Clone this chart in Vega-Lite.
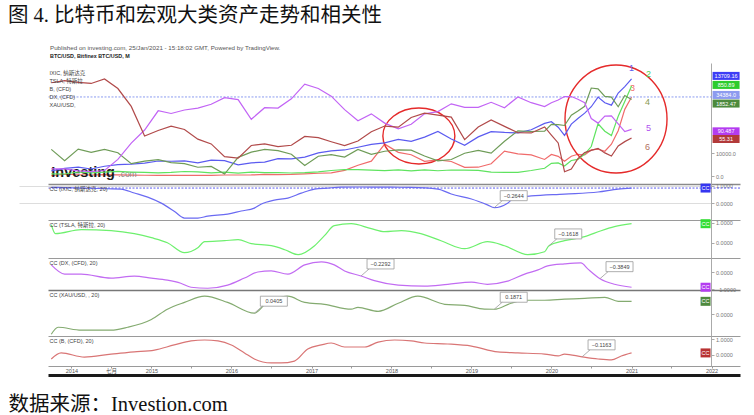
{
"$schema": "https://vega.github.io/schema/vega-lite/v6.json",
"background": "white",
"padding": {"left": 8, "right": 14, "top": 6, "bottom": 2},
"bounds": "flush",
"spacing": 0,
"title": {"text": "图 4. 比特币和宏观大类资产走势和相关性", "anchor": "start", "frame": "group", "dx": -40, "offset": 18, "fontSize": 20.5, "fontWeight": "normal", "font": "Liberation Serif, Noto Sans CJK SC", "color": "#111111"},
"datasets": {
"prices": [
{"d":"2013-10-01","btc":204,"ixic":3920,"tsla":31.9,"xau":1323,"dx":80.2,"b":108.8},
{"d":"2013-12-01","btc":754,"ixic":4177,"tsla":30.1,"xau":1202,"dx":80.2,"b":110.8},
{"d":"2014-02-01","btc":550,"ixic":4308,"tsla":49.0,"xau":1326,"dx":79.7,"b":109.1},
{"d":"2014-04-01","btc":445,"ixic":4115,"tsla":41.6,"xau":1291,"dx":79.5,"b":108.1},
{"d":"2014-06-01","btc":640,"ixic":4408,"tsla":48.0,"xau":1322,"dx":79.8,"b":112.4},
{"d":"2014-08-01","btc":478,"ixic":4580,"tsla":53.9,"xau":1287,"dx":82.7,"b":103.2},
{"d":"2014-10-01","btc":338,"ixic":4631,"tsla":48.5,"xau":1171,"dx":86.9,"b":85.9},
{"d":"2014-12-01","btc":318,"ixic":4736,"tsla":44.5,"xau":1199,"dx":90.3,"b":57.3},
{"d":"2015-02-01","btc":254,"ixic":4964,"tsla":40.6,"xau":1213,"dx":95.3,"b":62.6},
{"d":"2015-04-01","btc":236,"ixic":4941,"tsla":45.1,"xau":1183,"dx":94.6,"b":66.8},
{"d":"2015-06-01","btc":263,"ixic":4987,"tsla":53.7,"xau":1172,"dx":95.5,"b":63.6},
{"d":"2015-08-01","btc":230,"ixic":4777,"tsla":49.8,"xau":1133,"dx":96.0,"b":54.2},
{"d":"2015-10-01","btc":314,"ixic":5054,"tsla":41.4,"xau":1142,"dx":97.0,"b":49.6},
{"d":"2015-12-01","btc":430,"ixic":5007,"tsla":48.0,"xau":1061,"dx":98.7,"b":37.3},
{"d":"2016-02-01","btc":437,"ixic":4558,"tsla":38.2,"xau":1238,"dx":98.2,"b":35.9},
{"d":"2016-04-01","btc":448,"ixic":4775,"tsla":48.0,"xau":1293,"dx":93.1,"b":48.1},
{"d":"2016-06-01","btc":673,"ixic":4843,"tsla":42.5,"xau":1322,"dx":96.1,"b":49.7},
{"d":"2016-08-01","btc":575,"ixic":5213,"tsla":42.4,"xau":1309,"dx":96.0,"b":47.0},
{"d":"2016-10-01","btc":700,"ixic":5189,"tsla":39.4,"xau":1272,"dx":98.4,"b":48.3},
{"d":"2016-12-01","btc":964,"ixic":5383,"tsla":42.7,"xau":1152,"dx":102.2,"b":56.8},
{"d":"2017-02-01","btc":1190,"ixic":5825,"tsla":50.0,"xau":1250,"dx":101.1,"b":55.6},
{"d":"2017-04-01","btc":1350,"ixic":6048,"tsla":62.8,"xau":1268,"dx":99.1,"b":51.7},
{"d":"2017-06-01","btc":2480,"ixic":6140,"tsla":72.3,"xau":1242,"dx":95.6,"b":47.9},
{"d":"2017-08-01","btc":4700,"ixic":6429,"tsla":71.1,"xau":1322,"dx":92.7,"b":52.4},
{"d":"2017-10-01","btc":6450,"ixic":6728,"tsla":66.4,"xau":1271,"dx":94.5,"b":61.4},
{"d":"2017-12-01","btc":13860,"ixic":6903,"tsla":62.3,"xau":1303,"dx":92.1,"b":66.9},
{"d":"2018-02-01","btc":10300,"ixic":7273,"tsla":68.6,"xau":1318,"dx":90.6,"b":65.8},
{"d":"2018-04-01","btc":9240,"ixic":7066,"tsla":58.4,"xau":1315,"dx":91.8,"b":75.2},
{"d":"2018-06-01","btc":6390,"ixic":7510,"tsla":68.6,"xau":1253,"dx":94.5,"b":79.4},
{"d":"2018-08-01","btc":7030,"ixic":8110,"tsla":60.3,"xau":1201,"dx":95.1,"b":77.4},
{"d":"2018-10-01","btc":6300,"ixic":7306,"tsla":67.5,"xau":1215,"dx":97.1,"b":75.5},
{"d":"2018-12-01","btc":3740,"ixic":6635,"tsla":66.6,"xau":1282,"dx":96.2,"b":53.8},
{"d":"2019-02-01","btc":3820,"ixic":7533,"tsla":63.9,"xau":1313,"dx":96.2,"b":66.0},
{"d":"2019-04-01","btc":5320,"ixic":8095,"tsla":47.7,"xau":1283,"dx":97.5,"b":72.8},
{"d":"2019-06-01","btc":10800,"ixic":8006,"tsla":44.7,"xau":1409,"dx":96.1,"b":66.6},
{"d":"2019-08-01","btc":9600,"ixic":7963,"tsla":45.1,"xau":1520,"dx":98.9,"b":60.4},
{"d":"2019-10-01","btc":9150,"ixic":8292,"tsla":62.9,"xau":1513,"dx":97.4,"b":60.2},
{"d":"2019-12-01","btc":7200,"ixic":8973,"tsla":83.7,"xau":1517,"dx":96.4,"b":66.0},
{"d":"2020-01-01","btc":9350,"ixic":9151,"tsla":130.1,"xau":1589,"dx":97.4,"b":58.2},
{"d":"2020-02-01","btc":8550,"ixic":8567,"tsla":133.6,"xau":1585,"dx":98.1,"b":50.5},
{"d":"2020-03-01","btc":6400,"ixic":7700,"tsla":104.8,"xau":1577,"dx":99.0,"b":22.7},
{"d":"2020-04-01","btc":8620,"ixic":8890,"tsla":156.4,"xau":1686,"dx":99.0,"b":25.3},
{"d":"2020-05-01","btc":9450,"ixic":9490,"tsla":167.0,"xau":1730,"dx":98.3,"b":35.3},
{"d":"2020-06-01","btc":9140,"ixic":10059,"tsla":215.9,"xau":1781,"dx":97.4,"b":41.2},
{"d":"2020-07-01","btc":11350,"ixic":10745,"tsla":286.2,"xau":1975,"dx":93.3,"b":43.3},
{"d":"2020-08-01","btc":11650,"ixic":11775,"tsla":498.3,"xau":1967,"dx":92.1,"b":45.3},
{"d":"2020-09-01","btc":10780,"ixic":11168,"tsla":429.0,"xau":1886,"dx":93.9,"b":40.9},
{"d":"2020-10-01","btc":13800,"ixic":10912,"tsla":388.0,"xau":1878,"dx":94.0,"b":37.9},
{"d":"2020-11-01","btc":19700,"ixic":12199,"tsla":567.6,"xau":1776,"dx":91.9,"b":47.6},
{"d":"2020-12-01","btc":28990,"ixic":12888,"tsla":705.7,"xau":1895,"dx":89.9,"b":51.8},
{"d":"2021-01-01","btc":34384.0,"ixic":13709.16,"tsla":850.89,"xau":1852.47,"dx":90.487,"b":55.31}
],
"rings": [
{"n":1,"d":"2018-05-06","btc":17400},
{"n":2,"d":"2020-10-22","btc":24795}
],
"cc_ixic": [
{"d":"2013-10-01","v":0.92},{"d":"2014-06-15","v":0.84},{"d":"2014-08-15","v":0.82},{"d":"2014-10-15","v":0.59},
{"d":"2014-12-15","v":0.35},{"d":"2015-02-15","v":0.0},{"d":"2015-04-15","v":-0.47},{"d":"2015-06-01","v":-0.87},
{"d":"2015-08-01","v":-0.87},{"d":"2015-09-15","v":-0.76},{"d":"2015-12-15","v":-0.64},{"d":"2016-02-15","v":-0.46},
{"d":"2016-04-15","v":-0.29},{"d":"2016-05-15","v":-0.06},{"d":"2016-07-15","v":0.18},{"d":"2016-09-15","v":0.29},
{"d":"2016-11-15","v":0.58},{"d":"2017-01-15","v":0.82},{"d":"2017-03-15","v":0.88},{"d":"2017-05-15","v":0.93},
{"d":"2017-08-15","v":0.94},{"d":"2018-01-01","v":0.93},{"d":"2018-04-01","v":0.92},{"d":"2018-08-01","v":0.82},
{"d":"2018-10-01","v":0.53},{"d":"2019-01-01","v":0.24},{"d":"2019-03-15","v":-0.1},{"d":"2019-04-15","v":-0.2644},
{"d":"2019-06-15","v":0.0},{"d":"2019-07-15","v":0.3},{"d":"2019-10-01","v":0.42},{"d":"2020-03-01","v":0.53},
{"d":"2020-08-01","v":0.65},{"d":"2020-11-01","v":0.82},{"d":"2021-01-01","v":0.88}
],
"cc_tsla": [
{"d":"2013-10-01","v":0.9},{"d":"2013-10-20","v":0.45},{"d":"2014-02-15","v":0.65},{"d":"2014-07-01","v":0.6},
{"d":"2014-10-15","v":0.45},{"d":"2015-01-01","v":0.25},{"d":"2015-03-15","v":0.0},{"d":"2015-06-01","v":-0.5},
{"d":"2015-08-01","v":-0.25},{"d":"2015-09-01","v":0.05},{"d":"2015-12-01","v":0.1},{"d":"2016-02-01","v":0.15},
{"d":"2016-04-01","v":-0.05},{"d":"2016-07-01","v":-0.15},{"d":"2016-09-01","v":-0.35},{"d":"2016-11-01","v":-0.6},
{"d":"2017-01-15","v":-0.15},{"d":"2017-03-01","v":0.35},{"d":"2017-04-15","v":0.85},{"d":"2017-07-01","v":0.95},
{"d":"2017-10-01","v":0.7},{"d":"2017-12-01","v":0.55},{"d":"2018-02-15","v":0.6},{"d":"2018-05-15","v":0.45},
{"d":"2018-08-15","v":0.1},{"d":"2018-12-01","v":-0.3},{"d":"2019-03-15","v":0.05},{"d":"2019-06-01","v":-0.15},
{"d":"2019-09-15","v":-0.6},{"d":"2019-12-01","v":-0.45},{"d":"2019-12-20","v":-0.1618},{"d":"2020-03-01","v":0.1},
{"d":"2020-06-01","v":0.3},{"d":"2020-08-15","v":0.6},{"d":"2020-10-15","v":0.8},{"d":"2021-01-01","v":0.95}
],
"cc_dx": [
{"d":"2013-10-01","v":0.41},{"d":"2013-12-01","v":-0.12},{"d":"2014-02-15","v":-0.12},{"d":"2014-07-01","v":-0.35},
{"d":"2014-10-15","v":-0.24},{"d":"2015-01-01","v":-0.35},{"d":"2015-03-15","v":-0.47},{"d":"2015-05-15","v":-0.65},
{"d":"2015-07-01","v":-0.88},{"d":"2015-09-15","v":-0.94},{"d":"2015-12-15","v":-0.76},{"d":"2016-03-01","v":-0.35},
{"d":"2016-05-01","v":0.0},{"d":"2016-07-01","v":0.06},{"d":"2016-09-15","v":-0.12},{"d":"2016-12-01","v":0.41},
{"d":"2017-02-15","v":0.59},{"d":"2017-04-15","v":0.41},{"d":"2017-06-01","v":0.06},{"d":"2017-08-15","v":-0.2292},
{"d":"2017-10-15","v":-0.5},{"d":"2018-02-01","v":-0.76},{"d":"2018-06-01","v":-0.82},{"d":"2018-09-15","v":-0.71},
{"d":"2019-01-01","v":-0.59},{"d":"2019-03-15","v":-0.71},{"d":"2019-06-15","v":-0.53},{"d":"2019-09-01","v":-0.12},
{"d":"2019-11-01","v":0.12},{"d":"2019-12-15","v":0.35},{"d":"2020-03-01","v":0.47},{"d":"2020-05-15","v":0.53},
{"d":"2020-06-15","v":0.18},{"d":"2020-08-10","v":-0.3849},{"d":"2020-10-15","v":-0.71},{"d":"2021-01-01","v":-0.88}
],
"cc_xau": [
{"d":"2013-10-01","v":-0.74},{"d":"2013-11-01","v":-0.48},{"d":"2014-02-15","v":-0.59},{"d":"2014-07-01","v":-0.59},
{"d":"2014-09-15","v":-0.48},{"d":"2015-01-01","v":-0.19},{"d":"2015-03-15","v":0.19},{"d":"2015-06-01","v":0.44},
{"d":"2015-09-01","v":0.67},{"d":"2015-12-15","v":0.44},{"d":"2016-04-15","v":0.0405},{"d":"2016-06-01","v":0.35},
{"d":"2016-08-01","v":0.6},{"d":"2016-09-15","v":0.67},{"d":"2016-12-01","v":0.44},{"d":"2017-03-01","v":0.37},
{"d":"2017-07-01","v":0.19},{"d":"2017-08-01","v":0.26},{"d":"2017-11-01","v":0.11},{"d":"2018-02-01","v":0.41},
{"d":"2018-05-01","v":0.67},{"d":"2018-09-01","v":0.37},{"d":"2018-12-01","v":0.33},{"d":"2019-03-01","v":0.19},
{"d":"2019-04-15","v":0.1871},{"d":"2019-07-01","v":0.41},{"d":"2019-09-01","v":0.52},{"d":"2019-12-01","v":0.52},
{"d":"2020-03-01","v":0.56},{"d":"2020-06-01","v":0.59},{"d":"2020-09-01","v":0.63},{"d":"2020-11-01","v":0.48},
{"d":"2021-01-01","v":0.48}
],
"cc_b": [
{"d":"2013-10-01","v":-0.25},{"d":"2013-11-15","v":0.13},{"d":"2014-03-01","v":-0.13},{"d":"2014-07-01","v":0.06},
{"d":"2014-10-15","v":0.19},{"d":"2015-01-15","v":0.31},{"d":"2015-04-15","v":0.63},{"d":"2015-07-01","v":0.88},
{"d":"2015-09-01","v":0.94},{"d":"2015-11-01","v":0.88},{"d":"2016-01-01","v":0.63},{"d":"2016-03-01","v":0.13},
{"d":"2016-04-15","v":-0.25},{"d":"2016-07-01","v":-0.5},{"d":"2016-08-15","v":-0.5},{"d":"2016-10-15","v":-0.38},
{"d":"2016-12-15","v":0.38},{"d":"2017-02-15","v":0.63},{"d":"2017-04-01","v":0.75},{"d":"2017-06-01","v":0.5},
{"d":"2017-09-01","v":0.5},{"d":"2017-11-01","v":0.81},{"d":"2018-01-15","v":0.94},{"d":"2018-04-01","v":0.88},
{"d":"2018-06-01","v":0.75},{"d":"2018-09-15","v":0.69},{"d":"2019-01-01","v":0.56},{"d":"2019-05-01","v":0.19},
{"d":"2019-08-01","v":0.13},{"d":"2019-12-01","v":0.06},{"d":"2020-02-01","v":-0.06},{"d":"2020-03-01","v":0.06},
{"d":"2020-05-20","v":-0.1163},{"d":"2020-08-01","v":-0.25},{"d":"2020-10-01","v":-0.31},{"d":"2020-11-15","v":-0.06},
{"d":"2021-01-01","v":0.13}
],
"notes": [
{"p":"IXIC","d":"2019-04-15","v":-0.2644},
{"p":"TSLA","d":"2019-12-20","v":-0.1618},
{"p":"DX","d":"2017-08-15","v":-0.2292},
{"p":"DX","d":"2020-08-10","v":-0.3849},
{"p":"XAU","d":"2016-04-15","v":0.0405},
{"p":"XAU","d":"2019-04-15","v":0.1871},
{"p":"B","d":"2020-05-20","v":-0.1163}
]
},
"vconcat": [
{
"width": 692, "height": 121,
"title": {"text": "Published on investing.com, 25/Jan/2021 - 15:18:02 GMT, Powered by TradingView.", "subtitle": "BTC/USD, Bitfinex BTC/USD, M", "anchor": "start", "frame": "group", "dx": 2, "offset": 3, "fontSize": 6.2, "fontWeight": "normal", "color": "#555555", "subtitleFontSize": 5.4, "subtitleFontWeight": "bold", "subtitleColor": "#222222", "subtitlePadding": 3, "font": "Liberation Sans", "subtitleFont": "Liberation Sans"},
"data": {"name": "prices"},
"layer": [
{"layer": [
{"mark": {"type": "line", "color": "#f06b6b", "strokeWidth": 1.2},
 "encoding": {
  "x": {"field": "d", "type": "temporal", "scale": {"type": "utc", "domain": [{"year": 2013, "month": 9, "date": 16, "utc": true}, {"year": 2022, "month": 5, "date": 11, "utc": true}]}, "axis": {"orient": "bottom", "title": null, "domainColor": "#8a8a8a", "domainWidth": 1.5}},
  "y": {"field": "btc", "type": "quantitative", "scale": {"domain": [-3480, 49155], "nice": false, "zero": false}, "axis": {"orient": "right", "values": [0, 10000], "format": ".1f", "title": null, "labelOverlap": false}}}},
{"transform": [{"filter": "utcyear(datum.d) == 2021"}],
 "mark": {"type": "rule", "color": "#8c9cf0", "strokeDash": [2, 1.5], "strokeWidth": 1},
 "encoding": {"y": {"field": "btc", "type": "quantitative"}}},
{"transform": [{"filter": "utcyear(datum.d) == 2021"}],
 "mark": {"type": "point", "shape": "M8.1,-0.6H10.8V0.2H8.1Z", "size": 400, "filled": true, "fill": "#8d9bef", "strokeWidth": 0, "opacity": 1},
 "encoding": {"x": {"field": "d", "type": "temporal"}, "y": {"field": "btc", "type": "quantitative"}}},
{"transform": [{"filter": "utcyear(datum.d) == 2021"}],
 "mark": {"type": "text", "dx": 94.5, "dy": -2, "fontSize": 5.5, "color": "white", "align": "center", "baseline": "middle"},
 "encoding": {"x": {"field": "d", "type": "temporal"}, "y": {"field": "btc", "type": "quantitative"}, "text": {"field": "btc", "type": "quantitative", "format": ".1f"}}},
{"transform": [{"filter": "utcyear(datum.d) == 2021"}],
 "mark": {"type": "text", "text": "3", "dx": 1, "dy": -9, "fontSize": 9, "color": "#f06b6b", "align": "center", "baseline": "middle"},
 "encoding": {"x": {"field": "d", "type": "temporal"}, "y": {"field": "btc", "type": "quantitative"}}},
{"data": {"name": "rings"}, "transform": [{"filter": "datum.n == 1"}],
 "mark": {"type": "point", "shape": "M-3.6,0A3.6,2.8 0 1,0 3.6,0A3.6,2.8 0 1,0 -3.6,0Z", "size": 400, "filled": false, "stroke": "#e52a2a", "strokeWidth": 1.4, "opacity": 1},
 "encoding": {"x": {"field": "d", "type": "temporal"}, "y": {"field": "btc", "type": "quantitative"}}},
{"data": {"name": "rings"}, "transform": [{"filter": "datum.n == 2"}],
 "mark": {"type": "point", "shape": "M-5.1,0A5.1,5.4 0 1,0 5.1,0A5.1,5.4 0 1,0 -5.1,0Z", "size": 400, "filled": false, "stroke": "#e52a2a", "strokeWidth": 1.4, "opacity": 1},
 "encoding": {"x": {"field": "d", "type": "temporal"}, "y": {"field": "btc", "type": "quantitative"}}},
{"data": {"values": [{"t": "Investing", "u": ".com"}]},
 "mark": {"type": "text", "fontSize": 14.5, "fontWeight": "bold", "color": "#1c1c1c", "align": "left", "baseline": "alphabetic", "font": "Liberation Sans"},
 "encoding": {"x": {"datum": {"year": 2013, "month": 10, "date": 1, "utc": true}, "type": "temporal"}, "y": {"datum": -450, "type": "quantitative"}, "text": {"field": "t"}}},
{"data": {"values": [{"t": "Investing", "u": ".com"}]},
 "mark": {"type": "text", "fontSize": 8.5, "color": "#888888", "align": "left", "baseline": "alphabetic", "dx": 67, "font": "Liberation Sans"},
 "encoding": {"x": {"datum": {"year": 2013, "month": 10, "date": 1, "utc": true}, "type": "temporal"}, "y": {"datum": -450, "type": "quantitative"}, "text": {"field": "u"}}}
]},
{"layer": [
{"mark": {"type": "line", "strokeWidth": 1.2},
 "encoding": {"x": {"field": "d", "type": "temporal"}, "y": {"field": "ixic", "type": "quantitative", "scale": {"domain": [2516, 15402], "nice": false, "zero": false}, "axis": null},
  "color": {"datum": "IXIC, 纳斯达克", "scale": {"domain": ["IXIC, 纳斯达克", "TSLA, 特斯拉", "B, (CFD)", "DX, (CFD)", "XAU/USD,"], "range": ["#5b5bf0", "#5fe35f", "#b14a4a", "#c264f5", "#6f9c58"]}, "legend": {"orient": "none", "legendX": -4, "legendY": 7, "title": null}}}},
{"transform": [{"filter": "utcyear(datum.d) == 2021"}],
 "mark": {"type": "point", "shape": "M8.1,-0.7H10.8V0.1H8.1Z", "size": 400, "filled": true, "fill": "#3d3df5", "strokeWidth": 0, "opacity": 1},
 "encoding": {"x": {"field": "d", "type": "temporal"}, "y": {"field": "ixic", "type": "quantitative"}}},
{"transform": [{"filter": "utcyear(datum.d) == 2021"}],
 "mark": {"type": "text", "dx": 94.5, "dy": -3, "fontSize": 5.5, "color": "white", "align": "center", "baseline": "middle"},
 "encoding": {"x": {"field": "d", "type": "temporal"}, "y": {"field": "ixic", "type": "quantitative"}, "text": {"field": "ixic", "type": "quantitative", "format": ".2f"}}},
{"transform": [{"filter": "utcyear(datum.d) == 2021"}],
 "mark": {"type": "text", "text": "1", "dx": 0, "dy": -11, "fontSize": 9, "color": "#5b5bf0", "align": "center", "baseline": "middle"},
 "encoding": {"x": {"field": "d", "type": "temporal"}, "y": {"field": "ixic", "type": "quantitative"}}}
]},
{"layer": [
{"mark": {"type": "line", "strokeWidth": 1.2},
 "encoding": {"x": {"field": "d", "type": "temporal"}, "y": {"field": "tsla", "type": "quantitative", "scale": {"domain": [-63, 1064.5], "nice": false, "zero": false}, "axis": null}, "color": {"datum": "TSLA, 特斯拉"}}},
{"transform": [{"filter": "utcyear(datum.d) == 2021"}],
 "mark": {"type": "point", "shape": "M8.1,-0.5H10.8V0.3H8.1Z", "size": 400, "filled": true, "fill": "#2ecc2e", "strokeWidth": 0, "opacity": 1},
 "encoding": {"x": {"field": "d", "type": "temporal"}, "y": {"field": "tsla", "type": "quantitative"}}},
{"transform": [{"filter": "utcyear(datum.d) == 2021"}],
 "mark": {"type": "text", "dx": 94.5, "dy": -1, "fontSize": 5.5, "color": "white", "align": "center", "baseline": "middle"},
 "encoding": {"x": {"field": "d", "type": "temporal"}, "y": {"field": "tsla", "type": "quantitative"}, "text": {"field": "tsla", "type": "quantitative", "format": ".2f"}}},
{"transform": [{"filter": "utcyear(datum.d) == 2021"}],
 "mark": {"type": "text", "text": "2", "dx": 17, "dy": -12, "fontSize": 9, "color": "#4fd04f", "align": "center", "baseline": "middle"},
 "encoding": {"x": {"field": "d", "type": "temporal"}, "y": {"field": "tsla", "type": "quantitative"}}}
]},
{"layer": [
{"mark": {"type": "line", "strokeWidth": 1.2},
 "encoding": {"x": {"field": "d", "type": "temporal"}, "y": {"field": "xau", "type": "quantitative", "scale": {"domain": [955, 2241], "nice": false, "zero": false}, "axis": null}, "color": {"datum": "XAU/USD,"}}},
{"transform": [{"filter": "utcyear(datum.d) == 2021"}],
 "mark": {"type": "point", "shape": "M8.1,0H10.8V0.8H8.1Z", "size": 400, "filled": true, "fill": "#4d8a3d", "strokeWidth": 0, "opacity": 1},
 "encoding": {"x": {"field": "d", "type": "temporal"}, "y": {"field": "xau", "type": "quantitative"}}},
{"transform": [{"filter": "utcyear(datum.d) == 2021"}],
 "mark": {"type": "text", "dx": 94.5, "dy": 4, "fontSize": 5.5, "color": "white", "align": "center", "baseline": "middle"},
 "encoding": {"x": {"field": "d", "type": "temporal"}, "y": {"field": "xau", "type": "quantitative"}, "text": {"field": "xau", "type": "quantitative", "format": ".2f"}}},
{"transform": [{"filter": "utcyear(datum.d) == 2021"}],
 "mark": {"type": "text", "text": "4", "dx": 16, "dy": 2.5, "fontSize": 9, "color": "#8a9a50", "align": "center", "baseline": "middle"},
 "encoding": {"x": {"field": "d", "type": "temporal"}, "y": {"field": "xau", "type": "quantitative"}}}
]},
{"layer": [
{"mark": {"type": "line", "strokeWidth": 1.2},
 "encoding": {"x": {"field": "d", "type": "temporal"}, "y": {"field": "dx", "type": "quantitative", "scale": {"domain": [76.3, 107.7], "nice": false, "zero": false}, "axis": null}, "color": {"datum": "DX, (CFD)"}}},
{"transform": [{"filter": "utcyear(datum.d) == 2021"}],
 "mark": {"type": "point", "shape": "M8.1,-0.2H10.8V0.6H8.1Z", "size": 400, "filled": true, "fill": "#b43cf0", "strokeWidth": 0, "opacity": 1},
 "encoding": {"x": {"field": "d", "type": "temporal"}, "y": {"field": "dx", "type": "quantitative"}}},
{"transform": [{"filter": "utcyear(datum.d) == 2021"}],
 "mark": {"type": "text", "dx": 94.5, "dy": 2, "fontSize": 5.5, "color": "white", "align": "center", "baseline": "middle"},
 "encoding": {"x": {"field": "d", "type": "temporal"}, "y": {"field": "dx", "type": "quantitative"}, "text": {"field": "dx", "type": "quantitative", "format": ".3f"}}},
{"transform": [{"filter": "utcyear(datum.d) == 2021"}],
 "mark": {"type": "text", "text": "5", "dx": 17, "dy": -1, "fontSize": 9, "color": "#b050f0", "align": "center", "baseline": "middle"},
 "encoding": {"x": {"field": "d", "type": "temporal"}, "y": {"field": "dx", "type": "quantitative"}}}
]},
{"layer": [
{"mark": {"type": "line", "strokeWidth": 1.2},
 "encoding": {"x": {"field": "d", "type": "temporal"}, "y": {"field": "b", "type": "quantitative", "scale": {"domain": [10.8, 127.9], "nice": false, "zero": false}, "axis": null}, "color": {"datum": "B, (CFD)"}}},
{"transform": [{"filter": "utcyear(datum.d) == 2021"}],
 "mark": {"type": "point", "shape": "M8.1,-0.3H10.8V0.5H8.1Z", "size": 400, "filled": true, "fill": "#b23a3a", "strokeWidth": 0, "opacity": 1},
 "encoding": {"x": {"field": "d", "type": "temporal"}, "y": {"field": "b", "type": "quantitative"}}},
{"transform": [{"filter": "utcyear(datum.d) == 2021"}],
 "mark": {"type": "text", "dx": 94.5, "dy": 1, "fontSize": 5.5, "color": "white", "align": "center", "baseline": "middle"},
 "encoding": {"x": {"field": "d", "type": "temporal"}, "y": {"field": "b", "type": "quantitative"}, "text": {"field": "b", "type": "quantitative", "format": ".2f"}}},
{"transform": [{"filter": "utcyear(datum.d) == 2021"}],
 "mark": {"type": "text", "text": "6", "dx": 16, "dy": 9, "fontSize": 9, "color": "#b07060", "align": "center", "baseline": "middle"},
 "encoding": {"x": {"field": "d", "type": "temporal"}, "y": {"field": "b", "type": "quantitative"}}}
]}
],
"resolve": {"scale": {"y": "independent"}}
},
{
"width": 692, "height": 36,
"layer": [
{"data": {"name": "cc_ixic"}, "transform": [{"filter": "utcyear(datum.d) == 2021"}],
 "mark": {"type": "rule", "color": "#5b5bf0", "strokeDash": [2, 1.5], "strokeWidth": 1},
 "encoding": {"y": {"field": "v", "type": "quantitative"}}},
{"data": {"name": "cc_ixic"}, "mark": {"type": "line", "strokeWidth": 1.2, "interpolate": "monotone"},
 "encoding": {
  "x": {"field": "d", "type": "temporal", "scale": {"type": "utc", "domain": [{"year": 2013, "month": 9, "date": 16, "utc": true}, {"year": 2022, "month": 5, "date": 11, "utc": true}]}, "axis": {"orient": "bottom", "title": null}},
  "y": {"field": "v", "type": "quantitative", "scale": {"domain": [-0.983, 1.116], "nice": false, "zero": false}, "axis": {"orient": "right", "values": [0, 1], "format": ".4f", "title": null}},
  "color": {"datum": "CC (IXIC, 纳斯达克, 20)", "scale": {"range": ["#6a6af2"]}, "legend": {"orient": "none", "legendX": -4, "legendY": 2, "title": null}}}},
{"data": {"name": "cc_ixic"}, "transform": [{"filter": "utcyear(datum.d) == 2021"}],
 "mark": {"type": "point", "shape": "M6.9,-0.45H7.9V0.45H6.9Z", "size": 400, "filled": true, "fill": "#3535f0", "strokeWidth": 0, "opacity": 1},
 "encoding": {"x": {"field": "d", "type": "temporal"}, "y": {"field": "v", "type": "quantitative"}}},
{"data": {"name": "cc_ixic"}, "transform": [{"filter": "utcyear(datum.d) == 2021"}],
 "mark": {"type": "text", "text": "CC", "dx": 74, "fontSize": 5.5, "color": "white", "align": "center", "baseline": "middle"},
 "encoding": {"x": {"field": "d", "type": "temporal"}, "y": {"field": "v", "type": "quantitative"}}},
{"data": {"name": "notes"}, "transform": [{"filter": "datum.p == 'IXIC'"}],
 "mark": {"type": "point", "shape": "M0,0L0.8,-0.7M0.6,-1.7H3.3V-0.7H0.6Z", "size": 400, "filled": true, "fill": "white", "stroke": "#9a9a9a", "strokeWidth": 0.8, "opacity": 1},
 "encoding": {"x": {"field": "d", "type": "temporal"}, "y": {"field": "v", "type": "quantitative"}}},
{"data": {"name": "notes"}, "transform": [{"filter": "datum.p == 'IXIC'"}],
 "mark": {"type": "text", "dx": 19.5, "dy": -12, "fontSize": 5.5, "color": "#444444", "align": "center", "baseline": "middle"},
 "encoding": {"x": {"field": "d", "type": "temporal"}, "y": {"field": "v", "type": "quantitative"}, "text": {"field": "v", "type": "quantitative", "format": ".4f"}}}
]
},
{
"width": 692, "height": 38,
"layer": [
{"data": {"name": "cc_tsla"}, "mark": {"type": "line", "strokeWidth": 1.2, "interpolate": "monotone"},
 "encoding": {
  "x": {"field": "d", "type": "temporal", "scale": {"type": "utc", "domain": [{"year": 2013, "month": 9, "date": 16, "utc": true}, {"year": 2022, "month": 5, "date": 11, "utc": true}]}, "axis": {"orient": "bottom", "title": null}},
  "y": {"field": "v", "type": "quantitative", "scale": {"domain": [-0.765, 1.135], "nice": false, "zero": false}, "axis": {"orient": "right", "values": [0, 1], "format": ".4f", "title": null}},
  "color": {"datum": "CC (TSLA, 特斯拉, 20)", "scale": {"range": ["#6ef06e"]}, "legend": {"orient": "none", "legendX": -4, "legendY": 2, "title": null}}}},
{"data": {"name": "cc_tsla"}, "transform": [{"filter": "utcyear(datum.d) == 2021"}],
 "mark": {"type": "point", "shape": "M6.9,-0.45H7.9V0.45H6.9Z", "size": 400, "filled": true, "fill": "#33dd33", "strokeWidth": 0, "opacity": 1},
 "encoding": {"x": {"field": "d", "type": "temporal"}, "y": {"field": "v", "type": "quantitative"}}},
{"data": {"name": "cc_tsla"}, "transform": [{"filter": "utcyear(datum.d) == 2021"}],
 "mark": {"type": "text", "text": "CC", "dx": 74, "fontSize": 5.5, "color": "white", "align": "center", "baseline": "middle"},
 "encoding": {"x": {"field": "d", "type": "temporal"}, "y": {"field": "v", "type": "quantitative"}}},
{"data": {"name": "notes"}, "transform": [{"filter": "datum.p == 'TSLA'"}],
 "mark": {"type": "point", "shape": "M0,0L0.8,-0.7M0.6,-1.7H3.3V-0.7H0.6Z", "size": 400, "filled": true, "fill": "white", "stroke": "#9a9a9a", "strokeWidth": 0.8, "opacity": 1},
 "encoding": {"x": {"field": "d", "type": "temporal"}, "y": {"field": "v", "type": "quantitative"}}},
{"data": {"name": "notes"}, "transform": [{"filter": "datum.p == 'TSLA'"}],
 "mark": {"type": "text", "dx": 19.5, "dy": -12, "fontSize": 5.5, "color": "#444444", "align": "center", "baseline": "middle"},
 "encoding": {"x": {"field": "d", "type": "temporal"}, "y": {"field": "v", "type": "quantitative"}, "text": {"field": "v", "type": "quantitative", "format": ".4f"}}}
]
},
{
"width": 692, "height": 32,
"layer": [
{"data": {"name": "cc_dx"}, "mark": {"type": "line", "strokeWidth": 1.2, "interpolate": "monotone"},
 "encoding": {
  "x": {"field": "d", "type": "temporal", "scale": {"type": "utc", "domain": [{"year": 2013, "month": 9, "date": 16, "utc": true}, {"year": 2022, "month": 5, "date": 11, "utc": true}]}, "axis": {"orient": "bottom", "title": null, "domainColor": "#777777", "domainWidth": 1.5}},
  "y": {"field": "v", "type": "quantitative", "scale": {"domain": [-1.04, 0.809], "nice": false, "zero": false}, "axis": {"orient": "right", "values": [0, -1], "format": ".4f", "title": null}},
  "color": {"datum": "CC (DX, (CFD), 20)", "scale": {"range": ["#c26cf2"]}, "legend": {"orient": "none", "legendX": -4, "legendY": 2, "title": null}}}},
{"data": {"name": "cc_dx"}, "transform": [{"filter": "utcyear(datum.d) == 2021"}],
 "mark": {"type": "point", "shape": "M6.9,-0.45H7.9V0.45H6.9Z", "size": 400, "filled": true, "fill": "#b43cf0", "strokeWidth": 0, "opacity": 1},
 "encoding": {"x": {"field": "d", "type": "temporal"}, "y": {"field": "v", "type": "quantitative"}}},
{"data": {"name": "cc_dx"}, "transform": [{"filter": "utcyear(datum.d) == 2021"}],
 "mark": {"type": "text", "text": "CC", "dx": 74, "fontSize": 5.5, "color": "white", "align": "center", "baseline": "middle"},
 "encoding": {"x": {"field": "d", "type": "temporal"}, "y": {"field": "v", "type": "quantitative"}}},
{"data": {"name": "notes"}, "transform": [{"filter": "datum.p == 'DX'"}],
 "mark": {"type": "point", "shape": "M0,0L0.8,-0.7M0.6,-1.7H3.3V-0.7H0.6Z", "size": 400, "filled": true, "fill": "white", "stroke": "#9a9a9a", "strokeWidth": 0.8, "opacity": 1},
 "encoding": {"x": {"field": "d", "type": "temporal"}, "y": {"field": "v", "type": "quantitative"}}},
{"data": {"name": "notes"}, "transform": [{"filter": "datum.p == 'DX'"}],
 "mark": {"type": "text", "dx": 19.5, "dy": -12, "fontSize": 5.5, "color": "#444444", "align": "center", "baseline": "middle"},
 "encoding": {"x": {"field": "d", "type": "temporal"}, "y": {"field": "v", "type": "quantitative"}, "text": {"field": "v", "type": "quantitative", "format": ".4f"}}}
]
},
{
"width": 692, "height": 46,
"layer": [
{"data": {"name": "cc_xau"}, "mark": {"type": "line", "strokeWidth": 1.2, "interpolate": "monotone"},
 "encoding": {
  "x": {"field": "d", "type": "temporal", "scale": {"type": "utc", "domain": [{"year": 2013, "month": 9, "date": 16, "utc": true}, {"year": 2022, "month": 5, "date": 11, "utc": true}]}, "axis": {"orient": "bottom", "title": null}},
  "y": {"field": "v", "type": "quantitative", "scale": {"domain": [-0.804, 0.9], "nice": false, "zero": false}, "axis": {"orient": "right", "values": [0], "format": ".4f", "title": null}},
  "color": {"datum": "CC (XAU/USD, , 20)", "scale": {"range": ["#84ab70"]}, "legend": {"orient": "none", "legendX": -4, "legendY": 2, "title": null}}}},
{"data": {"name": "cc_xau"}, "transform": [{"filter": "utcyear(datum.d) == 2021"}],
 "mark": {"type": "point", "shape": "M6.9,-0.45H7.9V0.45H6.9Z", "size": 400, "filled": true, "fill": "#4f8a3f", "strokeWidth": 0, "opacity": 1},
 "encoding": {"x": {"field": "d", "type": "temporal"}, "y": {"field": "v", "type": "quantitative"}}},
{"data": {"name": "cc_xau"}, "transform": [{"filter": "utcyear(datum.d) == 2021"}],
 "mark": {"type": "text", "text": "CC", "dx": 74, "fontSize": 5.5, "color": "white", "align": "center", "baseline": "middle"},
 "encoding": {"x": {"field": "d", "type": "temporal"}, "y": {"field": "v", "type": "quantitative"}}},
{"data": {"name": "notes"}, "transform": [{"filter": "datum.p == 'XAU'"}],
 "mark": {"type": "point", "shape": "M0,0L0.8,-0.7M0.6,-1.7H3.3V-0.7H0.6Z", "size": 400, "filled": true, "fill": "white", "stroke": "#9a9a9a", "strokeWidth": 0.8, "opacity": 1},
 "encoding": {"x": {"field": "d", "type": "temporal"}, "y": {"field": "v", "type": "quantitative"}}},
{"data": {"name": "notes"}, "transform": [{"filter": "datum.p == 'XAU'"}],
 "mark": {"type": "text", "dx": 19.5, "dy": -12, "fontSize": 5.5, "color": "#444444", "align": "center", "baseline": "middle"},
 "encoding": {"x": {"field": "d", "type": "temporal"}, "y": {"field": "v", "type": "quantitative"}, "text": {"field": "v", "type": "quantitative", "format": ".4f"}}}
]
},
{
"width": 692, "height": 30,
"layer": [
{"data": {"name": "cc_b"}, "mark": {"type": "line", "strokeWidth": 1.2, "interpolate": "monotone"},
 "encoding": {
  "x": {"field": "d", "type": "temporal", "scale": {"type": "utc", "domain": [{"year": 2013, "month": 9, "date": 16, "utc": true}, {"year": 2022, "month": 5, "date": 11, "utc": true}]},
   "axis": {"orient": "bottom", "title": null, "labels": true, "ticks": true, "tickSize": 2, "tickColor": "#9a9a9a", "labelFontSize": 5.5, "labelColor": "#555555", "labelPadding": 0, "tickCount": {"interval": "month", "step": 6}, "labelExpr": "utcmonth(datum.value) == 6 ? (utcyear(datum.value) == 2014 ? '七月' : '') : '' + utcyear(datum.value)", "labelOverlap": false, "labelFlush": false}},
  "y": {"field": "v", "type": "quantitative", "scale": {"domain": [-0.69, 1.19], "nice": false, "zero": false}, "axis": {"orient": "right", "values": [0, 1], "format": ".4f", "title": null}},
  "color": {"datum": "CC (B, (CFD), 20)", "scale": {"range": ["#d97575"]}, "legend": {"orient": "none", "legendX": -4, "legendY": 2, "title": null}}}},
{"data": {"name": "cc_b"}, "transform": [{"filter": "utcyear(datum.d) == 2021"}],
 "mark": {"type": "point", "shape": "M6.9,-0.45H7.9V0.45H6.9Z", "size": 400, "filled": true, "fill": "#b83232", "strokeWidth": 0, "opacity": 1},
 "encoding": {"x": {"field": "d", "type": "temporal"}, "y": {"field": "v", "type": "quantitative"}}},
{"data": {"name": "cc_b"}, "transform": [{"filter": "utcyear(datum.d) == 2021"}],
 "mark": {"type": "text", "text": "CC", "dx": 74, "fontSize": 5.5, "color": "white", "align": "center", "baseline": "middle"},
 "encoding": {"x": {"field": "d", "type": "temporal"}, "y": {"field": "v", "type": "quantitative"}}},
{"data": {"name": "notes"}, "transform": [{"filter": "datum.p == 'B'"}],
 "mark": {"type": "point", "shape": "M0,0L0.8,-0.7M0.6,-1.7H3.3V-0.7H0.6Z", "size": 400, "filled": true, "fill": "white", "stroke": "#9a9a9a", "strokeWidth": 0.8, "opacity": 1},
 "encoding": {"x": {"field": "d", "type": "temporal"}, "y": {"field": "v", "type": "quantitative"}}},
{"data": {"name": "notes"}, "transform": [{"filter": "datum.p == 'B'"}],
 "mark": {"type": "text", "dx": 19.5, "dy": -12, "fontSize": 5.5, "color": "#444444", "align": "center", "baseline": "middle"},
 "encoding": {"x": {"field": "d", "type": "temporal"}, "y": {"field": "v", "type": "quantitative"}, "text": {"field": "v", "type": "quantitative", "format": ".4f"}}}
]
},
{
"width": 692, "height": 1,
"data": {"name": "prices"},
"mark": {"type": "rule", "opacity": 0},
"encoding": {"x": {"field": "d", "type": "temporal", "scale": {"type": "utc", "domain": [{"year": 2013, "month": 9, "date": 16, "utc": true}, {"year": 2022, "month": 5, "date": 11, "utc": true}]},
 "axis": {"orient": "bottom", "offset": 8, "domainColor": "#1a1a1a", "domainWidth": 3, "ticks": false, "labels": false, "title": "数据来源：Investion.com", "titleFont": "Liberation Serif, Noto Sans CJK SC", "titleFontSize": 20.5, "titleFontWeight": "normal", "titleColor": "#111111", "titleAnchor": "start", "titleAlign": "left", "titleX": -40, "titleY": 35, "titleBaseline": "alphabetic"}}}
}
],
"resolve": {"scale": {"x": "independent", "y": "independent", "color": "independent"}, "legend": {"color": "independent"}},
"config": {
"view": {"stroke": null},
"font": "Liberation Sans, Noto Sans CJK SC",
"axisRight": {"offset": -29, "domainColor": "#aaaaaa", "tickColor": "#aaaaaa", "tickSize": 3, "labelFontSize": 5.5, "labelColor": "#777777", "labelPadding": 1.5, "grid": false},
"axisBottom": {"labels": false, "ticks": false, "domainColor": "#9a9a9a", "grid": false},
"legend": {"symbolOpacity": 0, "symbolSize": 0, "labelFontSize": 5.5, "labelColor": "#444444", "padding": 0, "labelOffset": 0, "rowPadding": 1}
}
}
